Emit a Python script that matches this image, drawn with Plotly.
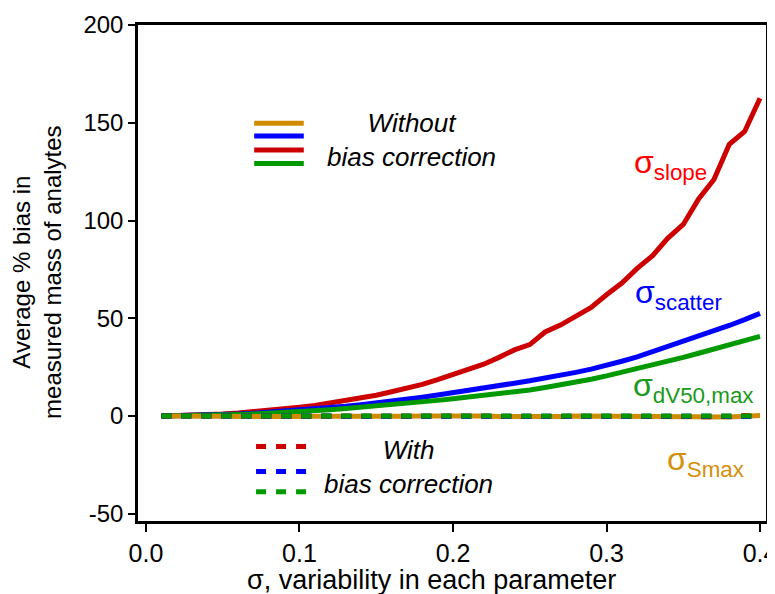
import plotly.graph_objects as go

sigma = [round(0.01 * i, 2) for i in range(1, 41)]

slope_without = [0, 0.1, 0.3, 0.6, 1.0, 1.5, 2.1, 2.8, 3.6, 4.5,
                 5.4, 6.6, 7.9, 9.2, 10.6, 12.4, 14.2, 16.2, 18.6, 21.2,
                 24.0, 26.5, 30.0, 33.8, 36.5, 43.0, 46.5, 51.0, 55.5, 62.0,
                 68.0, 75.5, 82.0, 91.0, 98.0, 111.0, 121.0, 139.0, 145.5, 162.5]
scatter_without = [0, 0.1, 0.2, 0.4, 0.7, 1.0, 1.4, 1.9, 2.4, 3.0,
                   3.6, 4.3, 5.0, 5.8, 6.6, 7.5, 8.5, 9.6, 10.7, 11.8,
                   13.0, 14.3, 15.5, 16.8, 18.0, 19.3, 20.7, 22.3, 24.0, 25.8,
                   28.0, 30.2, 32.8, 35.5, 38.0, 40.6, 43.4, 46.3, 49.3, 52.5]
dv50_without = [0, 0.05, 0.15, 0.3, 0.5, 0.75, 1.05, 1.4, 1.8, 2.2,
                2.7, 3.2, 3.8, 4.4, 5.1, 5.8, 6.5, 7.2, 8.0, 8.8,
                9.6, 10.3, 11.2, 12.2, 13.3, 14.6, 15.8, 17.2, 18.8, 20.5,
                22.3, 24.1, 26.0, 28.0, 30.0, 32.1, 34.3, 36.5, 38.5, 40.7]
smax_without = [0, -0.1, -0.2, -0.2, -0.3, -0.3, -0.2, -0.3, -0.2, -0.3,
                -0.1, -0.2, 0.0, -0.1, 0.1, 0.0, -0.1, 0.0, 0.1, 0.0,
                -0.1, 0.0, -0.2, -0.3, -0.5, -0.4, -0.2, 0.0, -0.1, 0.1,
                -0.2, 0.0, 0.1, -0.1, -0.3, -0.4, -0.6, -0.5, -0.1, 0.2]
slope_with = [0, 0.0, 0.1, 0.0, 0.1, 0.0, -0.1, 0.0, 0.1, 0.0,
              0.1, 0.0, -0.1, 0.0, 0.1, 0.0, 0.1, -0.1, 0.0, 0.1,
              0.0, -0.1, 0.0, 0.1, 0.0, -0.2, 0.1, 0.0, -0.3, 0.2,
              -0.1, 0.0, 0.3, -0.2, 0.1, -0.3, -0.4, -0.1, 0.2, -0.3]
scatter_with = [0, 0.0, 0.0, 0.1, 0.0, 0.1, 0.0, 0.0, 0.1, 0.0,
                0.0, 0.1, 0.0, 0.0, 0.1, 0.0, 0.0, 0.1, 0.0, 0.0,
                0.1, 0.0, 0.0, 0.1, 0.0, 0.3, 0.0, 0.1, 0.4, 0.0,
                0.2, 0.0, 0.4, 0.1, 0.3, 0.0, -0.2, 0.1, 0.0, -0.2]
dv50_with = [0, 0.0, 0.1, 0.1, 0.1, 0.1, 0.1, 0.1, 0.1, 0.1,
             0.1, 0.1, 0.1, 0.1, 0.1, 0.1, 0.1, 0.1, 0.1, 0.1,
             0.1, 0.1, 0.0, 0.1, 0.0, 0.0, 0.1, 0.1, 0.0, 0.1,
             0.1, 0.0, 0.1, 0.0, 0.1, 0.0, -0.1, 0.0, 0.1, 0.0]

x_ticks = [0.0, 0.1, 0.2, 0.3, 0.4]
x_tick_labels = ["0.0", "0.1", "0.2", "0.3", "0.4"]
y_ticks = [-50, 0, 50, 100, 150, 200]
y_tick_labels = ["-50", "0", "50", "100", "150", "200"]

RED_LINE = "#cc0000"
BLUE_LINE = "#0000ff"
GREEN_LINE = "#009a00"
ORANGE_LINE = "#d08c00"
FONT = "Liberation Sans, Arial, sans-serif"

fig = go.Figure()

solid = [(slope_without, RED_LINE), (scatter_without, BLUE_LINE),
         (dv50_without, GREEN_LINE), (smax_without, ORANGE_LINE)]
for ys, col in solid:
    fig.add_trace(go.Scatter(x=sigma, y=ys, mode="lines",
                             line=dict(color=col, width=5), showlegend=False,
                             hoverinfo="skip"))
dashed = [(slope_with, RED_LINE), (scatter_with, BLUE_LINE), (dv50_with, GREEN_LINE)]
for ys, col in dashed:
    fig.add_trace(go.Scatter(x=sigma, y=ys, mode="lines",
                             line=dict(color=col, width=5, dash="10px,10px"),
                             showlegend=False, hoverinfo="skip"))

# legend samples (paper coords)
L = dict(xref="paper", yref="paper", type="line", x0=0.185, x1=0.264)
leg_solid = [(0.802, ORANGE_LINE), (0.776, BLUE_LINE), (0.748, RED_LINE), (0.721, GREEN_LINE)]
for yy, col in leg_solid:
    fig.add_shape(**L, y0=yy, y1=yy, line=dict(color=col, width=5))
L2 = dict(xref="paper", yref="paper", type="line", x0=0.188, x1=0.270)
leg_dash = [(0.150, RED_LINE), (0.100, BLUE_LINE), (0.059, GREEN_LINE)]
for yy, col in leg_dash:
    fig.add_shape(**L2, y0=yy, y1=yy, line=dict(color=col, width=5, dash="10px,10px"))

ann = []
ann.append(dict(text="<i>Without</i><br><i>bias correction</i>", x=0.436, y=0.768,
                xref="paper", yref="paper", showarrow=False, align="center",
                xanchor="center", yanchor="middle",
                font=dict(family=FONT, size=26, color="black")))
ann.append(dict(text="<i>With</i><br><i>bias correction</i>", x=0.430, y=0.109,
                xref="paper", yref="paper", showarrow=False, align="center",
                xanchor="center", yanchor="middle",
                font=dict(family=FONT, size=26, color="black")))
labels = [("σ<sub>slope</sub>", 0.786, 0.718, "#ff0000"),
          ("σ<sub>scatter</sub>", 0.788, 0.456, "#0000ff"),
          ("σ<sub>dV50,max</sub>", 0.785, 0.270, "#1a9a1a"),
          ("σ<sub>Smax</sub>", 0.839, 0.119, "#d4900a")]
for t, xx, yy, col in labels:
    ann.append(dict(text=t, x=xx, y=yy, xref="paper", yref="paper", showarrow=False,
                    xanchor="left", yanchor="middle",
                    font=dict(family=FONT, size=32, color=col)))
ann.append(dict(text="Average % bias in<br>measured mass of analytes", textangle=-90,
                x=-0.161, y=0.502, xref="paper", yref="paper", showarrow=False,
                align="center", xanchor="center", yanchor="middle",
                font=dict(family=FONT, size=24, color="black")))
ann.append(dict(text="σ, variability in each parameter", x=0.467, y=-0.118,
                xref="paper", yref="paper", showarrow=False,
                xanchor="center", yanchor="middle",
                font=dict(family=FONT, size=27, color="black")))

# page body has an 8px offset, so the figure is drawn 8px smaller
fig.update_layout(
    width=767, height=586,
    margin=dict(l=130, r=9, t=17, b=73, autoexpand=False),
    paper_bgcolor="white", plot_bgcolor="white",
    font=dict(family=FONT, size=24, color="black"),
    annotations=ann,
    xaxis=dict(range=[-0.0052, 0.4039], tickvals=x_ticks, ticktext=x_tick_labels,
               automargin=False, ticklabeloverflow="allow",
               showline=True, mirror=True, linecolor="black", linewidth=2.5,
               ticks="outside", ticklen=8, tickwidth=2, tickcolor="black",
               showgrid=False, zeroline=False,
               tickfont=dict(family=FONT, size=25, color="black")),
    yaxis=dict(range=[-53.7, 200], tickvals=y_ticks, ticktext=y_tick_labels,
               automargin=False, ticklabeloverflow="allow",
               showline=True, mirror=True, linecolor="black", linewidth=2.5,
               ticks="outside", ticklen=7, tickwidth=2, tickcolor="black",
               showgrid=False, zeroline=False,
               tickfont=dict(family=FONT, size=24, color="black")),
)

fig.write_html("out.html")
